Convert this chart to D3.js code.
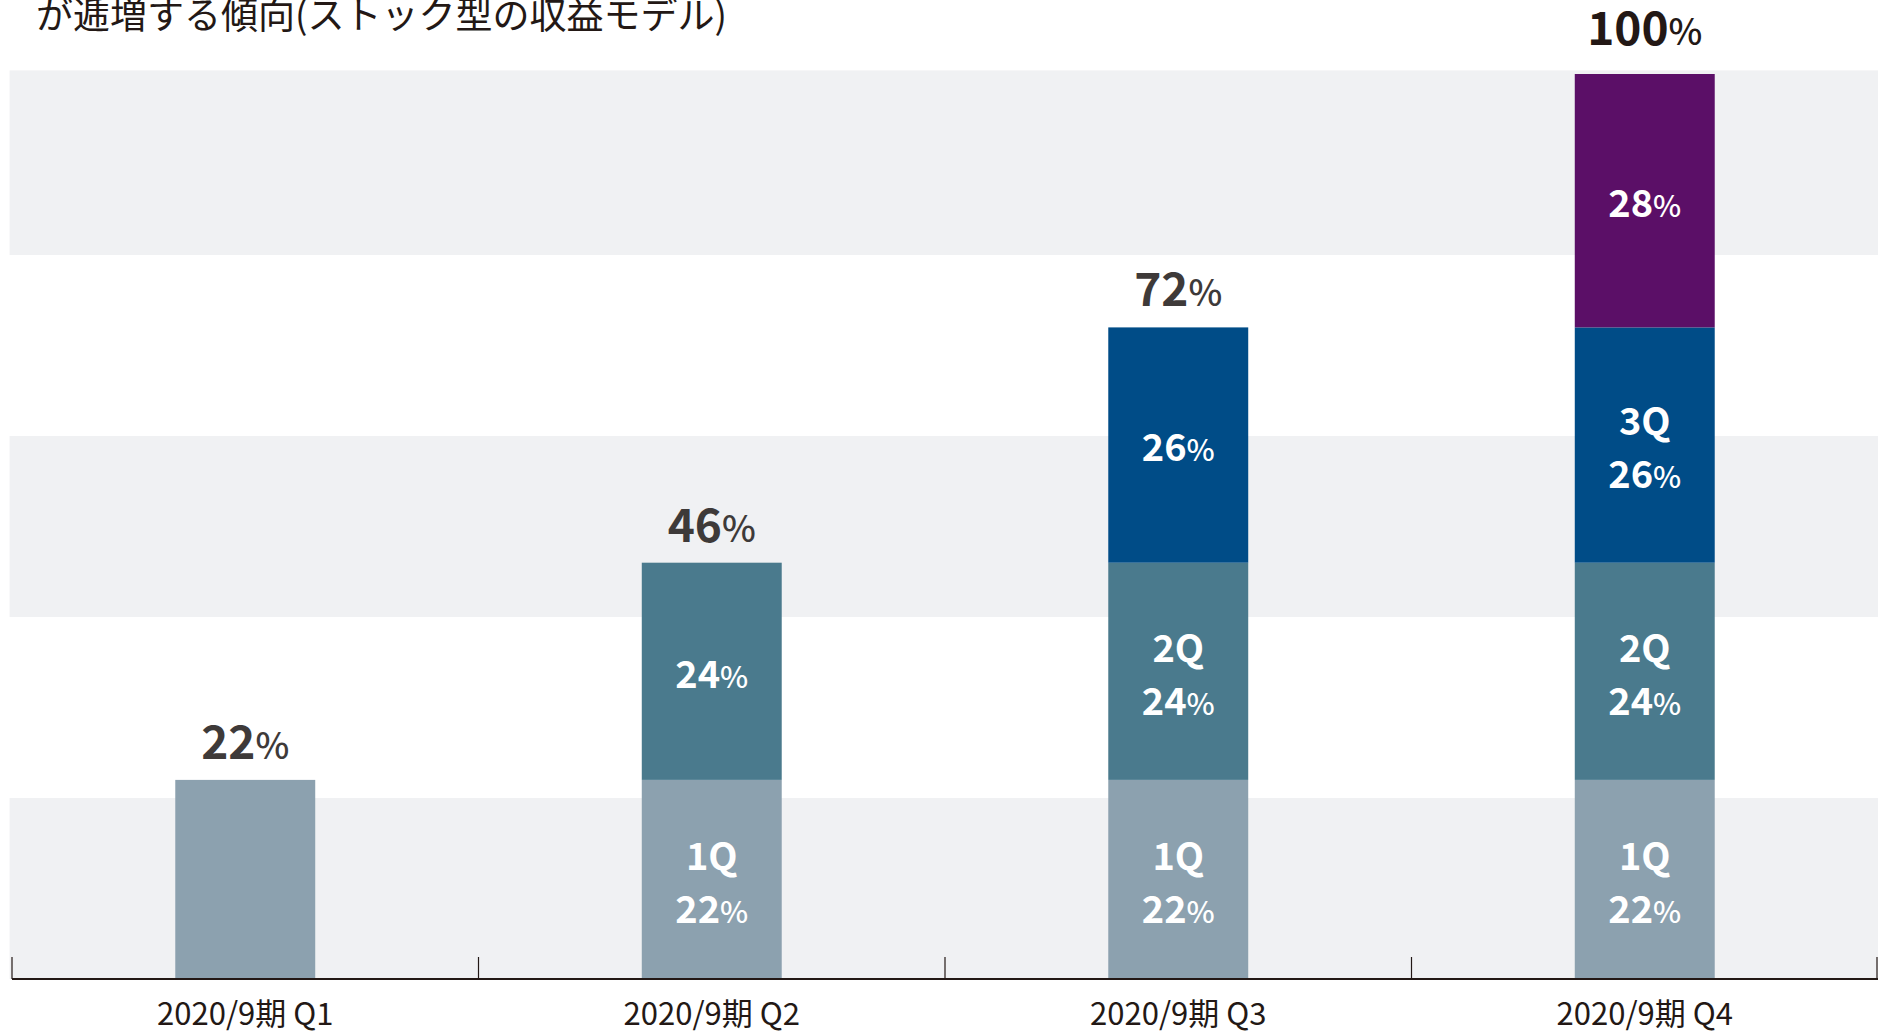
<!DOCTYPE html>
<html>
<head>
<meta charset="utf-8">
<script src="https://cdn.jsdelivr.net/npm/d3@7"></script>
<style>
  html, body { margin: 0; padding: 0; background: #fff; }
  svg { display: block; font-family: "Noto Sans CJK JP", "Noto Sans", sans-serif; }
</style>
</head>
<body>
<svg id="chart"></svg>
<script>
// data
const categories = ["2020/9期 Q1", "2020/9期 Q2", "2020/9期 Q3", "2020/9期 Q4"];
const segmentNames = ["1Q", "2Q", "3Q", "4Q"];
const segmentValues = [22, 24, 26, 28];
const totals = [22, 46, 72, 100];
const bandEdges = [0, 20, 40, 60, 80, 100.4];
const titleText = "が逓増する傾向(ストック型の収益モデル)";

const colors = ["#8ca1af", "#4a7a8d", "#004c87", "#5b0f67"];

const W = 1878, H = 1035;
const margin = {left: 12, right: 0, top: 74, bottom: 56};

const svg = d3.select("#chart").attr("width", W).attr("height", H);

const x = d3.scaleBand()
    .domain(categories)
    .range([margin.left, W - margin.right])
    .paddingInner(0.7)
    .paddingOuter(0.35);

const y = d3.scaleLinear()
    .domain([0, 100])
    .range([H - margin.bottom, margin.top]);

// background bands
for (let i = 0; i < bandEdges.length - 1; i += 2) {
    svg.append("rect")
        .attr("x", 9.6)
        .attr("y", y(bandEdges[i + 1]))
        .attr("width", W - 9.6)
        .attr("height", y(bandEdges[i]) - y(bandEdges[i + 1]))
        .attr("fill", "#f0f1f3");
}

// title (cut off at top like the source)
svg.append("text")
    .attr("x", 36)
    .attr("y", 29)
    .attr("font-size", 37)
    .attr("fill", "#231815")
    .text(titleText);

// stacked bars
const stacks = categories.map((c, j) => {
    let base = 0;
    return segmentValues.slice(0, j + 1).map((v, i) => {
        const s = {cat: c, j: j, i: i, y0: base, y1: base + v, v: v};
        base += v;
        return s;
    });
}).flat();

svg.append("g").selectAll("rect")
    .data(stacks)
    .join("rect")
    .attr("x", d => x(d.cat))
    .attr("y", d => y(d.y1))
    .attr("width", x.bandwidth())
    .attr("height", d => y(d.y0) - y(d.y1))
    .attr("fill", d => colors[d.i]);

// inner labels
const inner = svg.append("g").attr("fill", "#fff").attr("text-anchor", "middle").attr("font-weight", 700);
stacks.filter(d => d.j > 0).forEach(d => {
    const cx = x(d.cat) + x.bandwidth() / 2;
    const cy = (y(d.y0) + y(d.y1)) / 2 + 3;
    const top = d.i === d.j;
    if (!top) {
        inner.append("text")
            .attr("x", cx).attr("y", cy - 26).attr("dy", "0.35em")
            .attr("font-size", 38)
            .text(segmentNames[d.i]);
    }
    const t = inner.append("text")
        .attr("x", cx).attr("y", top ? cy : cy + 27).attr("dy", "0.35em")
        .attr("font-size", 38);
    t.append("tspan").text(d.v);
    t.append("tspan").attr("font-size", 30).attr("font-weight", 500).text("%");
});

// total labels
totals.forEach((v, j) => {
    const t = svg.append("text")
        .attr("x", x(categories[j]) + x.bandwidth() / 2)
        .attr("y", y(v) - (v === 100 ? 29 : 21))
        .attr("text-anchor", "middle")
        .attr("font-weight", 700)
        .attr("font-size", v === 100 ? 46 : 46)
        .attr("fill", v === 100 ? "#231815" : "#3e3a39");
    t.append("tspan").text(v);
    t.append("tspan").attr("font-size", 36).attr("font-weight", 500).text("%");
});

// x axis
const xAxis = d3.axisBottom(x).tickSize(0).tickPadding(24);
const xAxisG = svg.append("g")
    .attr("class", "axis x-axis")
    .attr("transform", `translate(0,${y(0)})`)
    .call(xAxis);
xAxisG.select(".domain").remove();
xAxisG.selectAll("text")
    .attr("font-family", "'Noto Sans CJK JP', sans-serif")
    .attr("font-size", 31)
    .attr("fill", "#231815");

const gap = (x.step() - x.bandwidth()) / 2;
const bounds = categories.map(c => x(c) - gap).concat([W - 1]);
svg.append("g").selectAll("line")
    .data(bounds)
    .join("line")
    .attr("x1", d => d).attr("x2", d => d)
    .attr("y1", y(0)).attr("y2", y(0) - 22)
    .attr("stroke", "#231815")
    .attr("stroke-width", 1.2);

svg.append("line")
    .attr("x1", margin.left).attr("x2", W)
    .attr("y1", y(0)).attr("y2", y(0))
    .attr("stroke", "#231815")
    .attr("stroke-width", 2);
</script>
</body>
</html>
